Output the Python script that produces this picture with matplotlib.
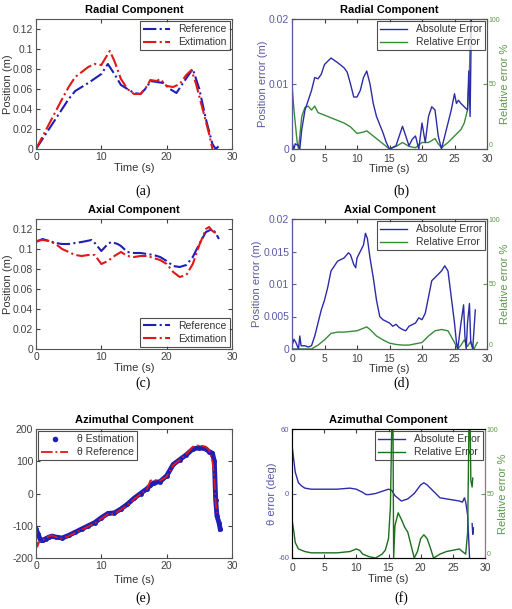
import matplotlib
matplotlib.use('Agg')
import matplotlib.pyplot as plt
from matplotlib.lines import Line2D

plt.rcParams['font.family'] = ['Liberation Sans', 'DejaVu Sans']
plt.rcParams['axes.unicode_minus'] = False

# ---- (a) radial position
rad_t_ref = [0, 2, 4, 5, 6, 8, 10, 11, 12, 13, 14, 15, 16, 17, 17.5, 18.5, 19.5, 20.5, 21.5, 22.5, 24, 25, 26, 27, 27.5, 28]
rad_ref = [0, 0.02, 0.04, 0.05, 0.058, 0.066, 0.075, 0.085, 0.075, 0.064, 0.06, 0.056, 0.055, 0.062, 0.068, 0.067,
           0.066, 0.06, 0.056, 0.066, 0.08, 0.06, 0.03, 0.005, 0, 0.003]
rad_t_est = [0, 2, 4, 5, 6, 8, 9, 10, 11, 11.3, 12, 13, 14, 15, 16, 17, 17.5, 18.5, 19, 20, 21, 22, 23, 23.8, 24.5, 25.5, 26.5, 27]
rad_est = [0, 0.025, 0.05, 0.062, 0.072, 0.082, 0.085, 0.084, 0.095, 0.098, 0.088, 0.07, 0.06, 0.055, 0.055, 0.063,
           0.069, 0.068, 0.07, 0.063, 0.062, 0.065, 0.074, 0.079, 0.065, 0.04, 0.015, 0]

# ---- (b) radial error
rad_t_abs = [0, 0.3, 0.5, 1, 1.2, 1.5, 2, 2.5, 3, 3.5, 4, 4.5, 5, 5.5, 6, 7, 8, 8.5, 9, 9.5, 10, 10.5, 11, 11.5, 12,
             12.5, 13, 14, 14.5, 15, 16, 16.5, 17, 17.5, 18, 18.5, 19, 19.5, 20, 20.5, 21, 21.5, 22, 22.5, 23, 23.5,
             24, 24.5, 25, 25.3, 25.6, 26, 26.5, 27, 27.2, 27.4, 27.6, 28]
rad_abs = [0.001, 0, 0.0008, 0.0005, 0, 0.003, 0.006, 0.0075, 0.009, 0.011, 0.0108, 0.0115, 0.013, 0.0135, 0.014,
           0.0133, 0.0125, 0.0118, 0.01, 0.008, 0.008, 0.009, 0.011, 0.012, 0.01, 0.007, 0.005, 0.0025, 0.001, 0,
           0.0005, 0.002, 0.0035, 0.002, 0.0005, 0.0015, 0.002, 0, 0.004, 0.001, 0.005, 0.0065, 0.006, 0.002, 0,
           0.002, 0.004, 0.006, 0.0085, 0.007, 0.0075, 0.007, 0.0065, 0.006, 0.012, 0.005, 0.02, 0.02]
rad_t_rel = [0, 0.3, 0.8, 1, 1.5, 2, 2.5, 3, 3.5, 4, 5, 6, 7, 8, 9, 10, 11, 11.5, 12, 13, 14, 15, 16, 17, 18, 19, 20,
             21, 22, 22.5, 23, 24, 25, 26, 26.5, 27, 27.3, 27.5]
rad_rel = [50, 30, 5, 0, 25, 32, 33, 30, 33, 28, 26, 24, 22, 20, 17, 12, 13, 14, 12, 8, 4, 0, 2, 5, 2, 1, 5, 5, 8, 4,
           1, 5, 10, 15, 20, 30, 60, 100]

# ---- (c) axial position
ax_t_ref = [0, 1, 2, 3, 4, 5, 6, 7, 8.5, 9, 10, 11, 11.5, 12.5, 13, 14, 15, 16, 17, 18, 19, 20, 21, 22, 23, 24, 25,
            26, 27, 27.5, 28]
ax_ref = [0.107, 0.11, 0.108, 0.106, 0.105, 0.105, 0.106, 0.107, 0.109, 0.106, 0.098, 0.105, 0.107, 0.105, 0.103,
          0.097, 0.096, 0.096, 0.095, 0.094, 0.092, 0.088, 0.083, 0.082, 0.084, 0.092, 0.105, 0.117, 0.12, 0.116, 0.11]
ax_t_est = [0, 1, 2, 3, 4, 5, 6, 7, 8, 9, 10, 11, 12, 13, 14, 15, 16, 17, 18, 19, 20, 21, 22, 23, 24, 25, 26, 26.5,
            27, 27.5]
ax_est = [0.108, 0.109, 0.108, 0.105, 0.1, 0.097, 0.094, 0.093, 0.094, 0.094, 0.085, 0.088, 0.093, 0.097, 0.093,
          0.092, 0.093, 0.093, 0.091, 0.089, 0.085, 0.077, 0.072, 0.074, 0.085, 0.104, 0.12, 0.122, 0.118, 0.116]

# ---- (d) axial error
ax_t_abs = [0, 0.3, 0.6, 1, 1.2, 1.4, 2, 2.5, 3, 3.5, 4, 4.5, 5, 5.5, 6, 7, 8, 8.7, 9, 9.5, 9.8, 10, 10.5, 11, 11.3,
            11.6, 12, 12.5, 13, 13.5, 14, 15, 15.5, 16, 16.5, 17, 17.5, 18, 19, 19.5, 20, 20.5, 21, 21.5, 22, 23,
            23.5, 24, 24.5, 25, 25.3, 25.5, 26, 26.4, 26.6, 26.8, 27, 27.3, 27.5, 27.8, 28.2]
ax_abs = [0.0005, 0.0015, 0.001, 0, 0.002, 0.0005, 0.0005, 0.0003, 0.0005, 0.002, 0.004, 0.006, 0.0075, 0.0095,
          0.012, 0.0135, 0.014, 0.0148, 0.0145, 0.013, 0.0125, 0.014, 0.015, 0.016, 0.0178, 0.017, 0.014, 0.011,
          0.0075, 0.005, 0.0045, 0.004, 0.0035, 0.0038, 0.0033, 0.003, 0.0028, 0.0035, 0.004, 0.0048, 0.0045,
          0.0055, 0.008, 0.0105, 0.011, 0.012, 0.0128, 0.012, 0.008, 0.004, 0.001, 0, 0.004, 0.0068, 0.002, 0,
          0.004, 0.007, 0.001, 0, 0.006]
ax_t_rel = [0, 3, 4, 5, 6, 7, 8, 9, 10, 11, 11.5, 12, 13, 14, 15, 16, 17, 18, 19, 20, 21, 22, 23, 24, 25, 25.5, 26,
            26.5, 27, 27.5, 28, 28.5]
ax_rel = [0, 0, 3, 7, 12, 13, 13, 13.5, 14, 16, 17, 15, 10, 7, 4.5, 3.5, 3, 3, 4, 5, 10, 14, 15, 14, 5, 0, 3, 7, 2,
          6, 0, 5]

# ---- (e) azimuthal angle
az_t_est = [0, 0.3, 0.7, 1, 1.5, 2, 2.5, 3, 4, 5, 6, 7, 8, 9, 10, 11, 12, 13, 14, 15, 16, 17, 17.5, 18, 19, 20, 21,
            22, 23, 24, 25, 26, 26.5, 27, 27.3, 27.5, 27.7, 28, 28.2]
az_est = [-110, -125, -145, -145, -140, -135, -132, -135, -138, -130, -120, -110, -100, -90, -75, -62, -60, -48, -33,
          -15, 0, 15, 25, 33, 37, 55, 90, 105, 120, 138, 142, 138, 130, 125, 100, -20, -70, -90, -110]
az_t_ref = [0, 0.2, 0.5, 1, 2, 2.5, 3, 4, 5, 6, 7, 8, 9, 10, 11, 12, 13, 14, 15, 16, 17, 17.5, 18, 19, 20, 21, 22,
            23, 24, 25, 26, 26.5, 27, 27.3, 27.5, 27.7]
az_ref = [-90, -165, -150, -145, -132, -130, -135, -140, -132, -122, -112, -102, -92, -78, -64, -62, -50, -36, -18,
          -2, 14, 40, 42, 40, 52, 88, 104, 122, 145, 150, 145, 135, 100, 50, -30, -60]

# ---- (f) azimuthal error
az_t_abs = [0, 0.2, 0.5, 1, 1.5, 2, 3, 5, 7, 9, 10, 11, 11.5, 12, 13, 14, 15, 15.5, 16, 17, 18, 19, 20, 20.5, 21,
            22, 23, 24, 25, 26, 26.5, 26.8, 27, 27.3, 27.6]
az_abs = [45, 35, 20, 10, 7, 5, 4, 4, 4, 5, 4, 1, -1, -1, 0, 2, 4, 3, -2, -7, -5, 0, 8, 10, 8, 2, -4, -5, -6, -7,
          -8, -4, -8, -20, -60]
az_t_abs2 = [28, 28.1, 28.2]
az_abs2 = [-28, -38, -32]
az_t_rel = [0, 0.3, 0.5, 1, 2, 3, 5, 7, 9, 10, 10.5, 11, 12, 13, 14, 14.5, 15, 15.3, 15.5, 15.7, 15.8, 16, 16.5, 17,
            17.5, 18, 18.5, 19, 19.5, 20, 20.5, 21, 21.5, 22, 23, 24, 25, 26, 26.5, 27, 27.3, 27.5, 27.7, 27.8, 28,
            28.1]
az_rel = [30, 20, 12, 7, 5, 4, 4, 4, 5, 7, 6, 3, 1, 0, 3, 6, 15, 40, 100, 100, 0, 25, 35, 30, 24, 20, 10, 0, 5, 15,
          18, 15, 8, 0, 3, 5, 6, 7, 5, 3, 20, 100, 100, 60, 55, 62]

BLUE = '#1f1fb4'
RED = '#e01818'
ABS_C = '#2c2ca8'
REL_C = '#3a8a3a'
LEFT_C = '#5a5aa8'
RIGHT_C = '#5c9a4c'
TICK_C = '#404040'
FS = 7.5


def style_axes(ax):
    ax.tick_params(direction='in', labelsize=FS, colors=TICK_C, length=3, top=True, right=True, pad=2)
    for s in ax.spines.values():
        s.set_color('#555555')
        s.set_linewidth(0.8)


def title(ax, text):
    ax.set_title(text, fontsize=8, fontweight='bold', pad=4,
                 family=['Liberation Sans Narrow', 'Liberation Sans'])


def legend(ax, loc, handles=None):
    kw = dict(loc=loc, fontsize=FS, frameon=True, fancybox=False, edgecolor='#222222',
              borderaxespad=0.2, handlelength=2.6, labelspacing=0.3, borderpad=0.3)
    if handles is not None:
        lg = ax.legend(handles=handles, **kw)
    else:
        lg = ax.legend(**kw)
    lg.get_frame().set_linewidth(0.8)
    for t in lg.get_texts():
        t.set_color('#333333')


def error_axes(ax, ylim, yticks, ylabel, ytick_fs=FS):
    ax.tick_params(direction='in', colors=TICK_C, length=3, top=True, pad=2)
    ax.tick_params(axis='y', colors=LEFT_C, labelsize=ytick_fs)
    ax.tick_params(axis='x', labelsize=FS, pad=3.5)
    ax.set_xlim(0, 30)
    ax.set_ylim(*ylim)
    ax.set_yticks(yticks)
    ax.set_ylabel(ylabel, fontsize=FS + 0.5, color=LEFT_C, labelpad=1)
    for s in ax.spines.values():
        s.set_color('#555555')
        s.set_linewidth(0.8)
    ax.spines['left'].set_color(LEFT_C)
    ax2 = ax.twinx()
    ax2.set_ylim(0, 100)
    ax2.set_yticks([0, 50, 100])
    ax2.tick_params(direction='in', length=3, colors=RIGHT_C, labelsize=5, pad=1)
    for lab in ax2.get_yticklabels()[:1]:
        lab.set_verticalalignment('bottom')
    ax2.spines['right'].set_color(RIGHT_C)
    ax2.set_ylabel('Relative error %', fontsize=FS + 0.5, color=RIGHT_C, labelpad=0)
    return ax2


fig = plt.figure(figsize=(5.12, 6.09), dpi=100)
W, H = 512, 609


def add(l, t, r, b):
    return fig.add_axes([l / W, 1 - b / H, (r - l) / W, (b - t) / H])


# (a)
ax = add(36, 19, 232, 149)
ax.plot(rad_t_ref, rad_ref, color=BLUE, ls='-.', lw=1.5, label='Reference')
ax.plot(rad_t_est, rad_est, color=RED, ls='-.', lw=1.5, label='Extimation')
ax.set_xlim(0, 30)
ax.set_ylim(0, 0.13)
ax.set_yticks([0, 0.02, 0.04, 0.06, 0.08, 0.1, 0.12])
ax.set_yticklabels(['0', '0.02', '0.04', '0.06', '0.08', '0.1', '0.12'])
ax.set_xticks([0, 10, 20, 30])
style_axes(ax)
ax.set_xlabel('Time (s)', fontsize=FS + 0.5, color='#333333', labelpad=1)
ax.set_ylabel('Position (m)', fontsize=FS + 0.5, color='#333333', labelpad=0)
title(ax, 'Radial Component')
legend(ax, 'upper right')

# (b)
ax = add(292, 19, 487, 149)
ax.plot(rad_t_abs, rad_abs, color=ABS_C, lw=1.0, label='Absolute Error')
ax.plot([], [], color=REL_C, lw=1.0, label='Relative Error')
ax.set_xticks([0, 5, 10, 15, 20, 25, 30])
ax2 = error_axes(ax, (0, 0.02), [0, 0.01, 0.02], 'Position error (m)')
ax.set_yticklabels(['0', '0.01', '0.02'])
ax2.plot(rad_t_rel, rad_rel, color=REL_C, lw=1.0)
ax.set_xlabel('Time (s)', fontsize=FS + 0.5, color='#333333', labelpad=0)
title(ax, 'Radial Component')
ax2.set_zorder(ax.get_zorder() - 1)
ax.patch.set_visible(False)
legend(ax, 'upper right')

# (c)
ax = add(36, 219, 232, 349)
ax.plot(ax_t_ref, ax_ref, color=BLUE, ls='-.', lw=1.5, label='Reference')
ax.plot(ax_t_est, ax_est, color=RED, ls='-.', lw=1.5, label='Extimation')
ax.set_xlim(0, 30)
ax.set_ylim(0, 0.13)
ax.set_yticks([0, 0.02, 0.04, 0.06, 0.08, 0.1, 0.12])
ax.set_yticklabels(['0', '0.02', '0.04', '0.06', '0.08', '0.1', '0.12'])
ax.set_xticks([0, 10, 20, 30])
style_axes(ax)
ax.set_xlabel('Time (s)', fontsize=FS + 0.5, color='#333333', labelpad=1)
ax.set_ylabel('Position (m)', fontsize=FS + 0.5, color='#333333', labelpad=0)
title(ax, 'Axial Component')
legend(ax, 'lower right')

# (d)
ax = add(292, 219, 487, 349)
ax.plot(ax_t_abs, ax_abs, color=ABS_C, lw=1.0, label='Absolute Error')
ax.plot([], [], color=REL_C, lw=1.0, label='Relative Error')
ax.set_xticks([0, 5, 10, 15, 20, 25, 30])
ax2 = error_axes(ax, (0, 0.02), [0, 0.005, 0.01, 0.015, 0.02], 'Position error (m)')
ax.set_yticklabels(['0', '0.005', '0.01', '0.015', '0.02'])
ax2.plot(ax_t_rel, ax_rel, color=REL_C, lw=1.0)
ax.set_xlabel('Time (s)', fontsize=FS + 0.5, color='#333333', labelpad=0)
title(ax, 'Axial Component')
ax2.set_zorder(ax.get_zorder() - 1)
ax.patch.set_visible(False)
legend(ax, 'upper right')

# (e)
ax = add(36, 429, 232, 558)
ax.plot(az_t_est, az_est, color=BLUE, ls='-', lw=3.5, marker='.', ms=5)
ax.plot(az_t_ref, az_ref, color=RED, ls='-.', lw=1.3)
ax.set_xlim(0, 30)
ax.set_ylim(-200, 200)
ax.set_yticks([-200, -100, 0, 100, 200])
ax.set_xticks([0, 10, 20, 30])
style_axes(ax)
ax.set_xlabel('Time (s)', fontsize=FS + 0.5, color='#333333', labelpad=3)
title(ax, 'Azimuthal Component')
handles = [Line2D([], [], color=BLUE, ls='none', marker='.', ms=6, label='\u03b8 Estimation'),
           Line2D([], [], color=RED, ls='-.', lw=1.3, label='\u03b8 Reference')]
legend(ax, 'upper left', handles)

# (f)
ax = add(292, 429, 485, 558)
ax.plot(az_t_abs, az_abs, color=ABS_C, lw=1.0, label='Absolute Error')
ax.plot(az_t_abs2, az_abs2, color=ABS_C, lw=1.0)
ax.plot([], [], color='#1e6e1e', lw=1.0, label='Relative Error')
ax.set_xticks([0, 5, 10, 15, 20, 25, 30])
ax2 = error_axes(ax, (-60, 60), [-60, 0, 60], '\u03b8 error (deg)', ytick_fs=5.5)
ax2.plot(az_t_rel, az_rel, color='#1e6e1e', lw=1.0)
ax.set_xlabel('Time (s)', fontsize=FS + 0.5, color='#333333', labelpad=1)
title(ax, 'Azimuthal Component')
legend(ax, 'upper right')

# sub-figure captions
for x, y, lab in [(143, 191, '(a)'), (401, 191, '(b)'), (143, 383, '(c)'), (401, 383, '(d)'),
                  (143, 598, '(e)'), (401, 598, '(f)')]:
    fig.text(x / W, 1 - y / H, lab, ha='center', va='center', fontsize=10,
             family=['Liberation Serif', 'DejaVu Serif'])

fig.savefig('out.png', dpi=100)
